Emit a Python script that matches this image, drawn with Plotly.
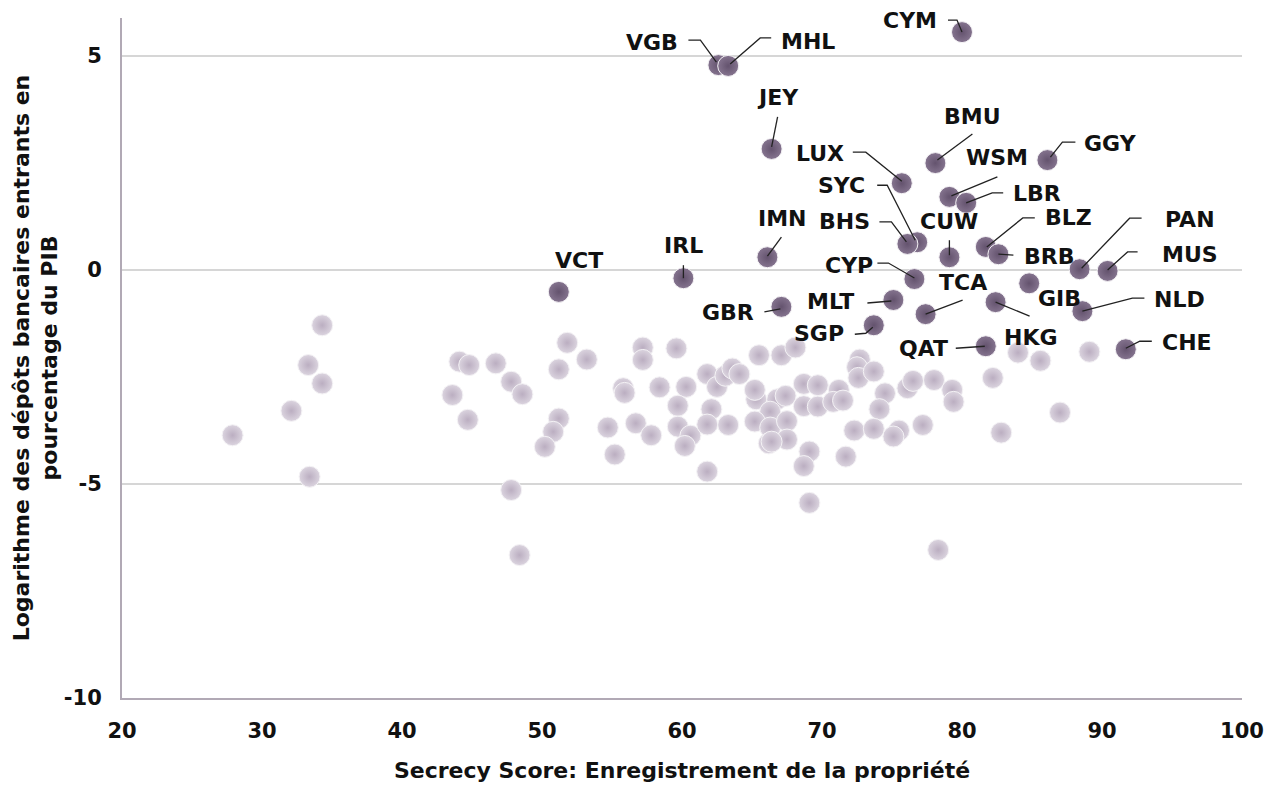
import plotly.graph_objects as go

# ---------------- data ----------------
# highlighted jurisdictions
codes = ["CYM", "VGB", "MHL", "JEY", "LUX", "BMU", "WSM", "GGY", "LBR", "SYC",
         "BHS", "CUW", "BLZ", "BRB", "PAN", "MUS", "CYP", "TCA", "MLT", "GBR",
         "SGP", "IMN", "IRL", "VCT", "GIB", "HKG", "NLD", "QAT", "CHE"]
codes_x = [80.0, 62.6, 63.3, 66.4, 75.7, 78.1, 79.1, 86.1, 80.3, 76.8,
           76.1, 79.1, 81.7, 82.6, 88.4, 90.4, 76.6, 77.4, 75.1, 67.1,
           73.7, 66.1, 60.1, 51.2, 84.8, 82.4, 88.6, 81.7, 91.7]
codes_y = [5.56, 4.79, 4.77, 2.83, 2.03, 2.50, 1.71, 2.57, 1.57, 0.65,
           0.61, 0.30, 0.54, 0.37, 0.02, -0.02, -0.21, -1.03, -0.70, -0.86,
           -1.29, 0.30, -0.19, -0.51, -0.31, -0.75, -0.96, -1.78, -1.85]

# other jurisdictions
other_x = [34.3, 33.3, 34.3, 32.1, 27.9, 33.4, 44.1, 44.8, 46.7, 47.8,
           48.6, 43.6, 44.7, 47.8, 48.4, 51.8, 53.2, 51.2, 51.2, 50.8,
           50.2, 54.7, 55.2, 55.8, 55.9, 56.7, 57.2, 57.2, 59.6, 58.4,
           60.3, 59.7, 57.8, 59.7, 60.6, 60.2, 61.8, 61.8, 62.5, 62.1,
           61.8, 63.3, 63.1, 63.6, 64.1, 65.5, 67.1, 68.1, 65.3, 65.2,
           66.8, 67.4, 66.3, 65.2, 66.3, 67.5, 67.5, 66.2, 66.4, 68.7,
           69.7, 68.7, 69.7, 71.2, 70.8, 71.5, 69.1, 68.7, 69.1, 71.7,
           72.7, 72.5, 72.6, 73.7, 74.5, 74.1, 72.3, 73.7, 75.5, 75.1,
           76.1, 76.5, 78.0, 79.3, 79.4, 77.2, 78.3, 82.2, 82.8, 87.0,
           84.0, 85.6, 89.1]
other_y = [-1.29, -2.22, -2.65, -3.29, -3.86, -4.83, -2.14, -2.22, -2.18, -2.61,
           -2.90, -2.92, -3.50, -5.14, -6.66, -1.70, -2.09, -2.32, -3.47, -3.78,
           -4.13, -3.68, -4.31, -2.76, -2.87, -3.58, -1.81, -2.10, -1.83, -2.74,
           -2.73, -3.17, -3.86, -3.66, -3.87, -4.11, -4.71, -2.43, -2.73, -3.25,
           -3.61, -3.62, -2.47, -2.30, -2.43, -1.99, -1.99, -1.81, -3.02, -2.80,
           -3.02, -2.94, -3.31, -3.54, -3.68, -3.53, -3.96, -4.05, -4.01, -2.66,
           -2.69, -3.18, -3.19, -2.80, -3.08, -3.05, -4.24, -4.58, -5.44, -4.36,
           -2.09, -2.27, -2.52, -2.37, -2.88, -3.25, -3.75, -3.71, -3.75, -3.89,
           -2.76, -2.59, -2.57, -2.80, -3.08, -3.62, -6.54, -2.52, -3.80, -3.33,
           -1.93, -2.12, -1.91]

x_ticks = [20, 30, 40, 50, 60, 70, 80, 90, 100]
y_ticks = [5, 0, -5, -10]
x_title = "Secrecy Score: Enregistrement de la propriété"
y_title = "Logarithme des dépôts bancaires entrants en<br>pourcentage du PIB"

# ---------------- label placement (pixel offsets, y up) ----------------
label_shift = {
    "CYM": (-52, 12), "VGB": (-66, 23), "MHL": (80, 24), "JEY": (6, 51),
    "LUX": (-82, 30), "BMU": (37, 47), "WSM": (48, 39), "GGY": (63, 17),
    "LBR": (71, 9), "SYC": (-76, 57), "BHS": (-63, 22), "CUW": (0, 36),
    "BLZ": (83, 29), "BRB": (51, -2), "PAN": (110, 50), "MUS": (82, 16),
    "CYP": (-65, 14), "TCA": (37, 32), "MLT": (-63, -1), "GBR": (-53, -6),
    "SGP": (-55, -8), "IMN": (15, 39), "IRL": (0, 33), "VCT": (20, 31),
    "GIB": (30, -15), "HKG": (35, -35), "NLD": (97, 12), "QAT": (-62, -2),
    "CHE": (61, 7),
}
leader_path = {
    "CYM": [(-14, 12), (-5, 12), (0, 0)],
    "VGB": [(-30, 25), (-18, 25), (-2, 3)],
    "MHL": [(43, 28), (32, 28), (2, 2)],
    "JEY": [(6, 32), (0, 2)],
    "LUX": [(-49, 31), (-36, 31), (0, 2)],
    "BMU": [(37, 29), (2, 3)],
    "WSM": [(48, 20), (2, 1)],
    "GGY": [(28, 18), (15, 18), (3, 3)],
    "LBR": [(37, 10), (26, 10), (0, 0)],
    "SYC": [(-40, 57), (-30, 57), (-2, 2)],
    "BHS": [(-28, 22), (-16, 22), (-1, 2)],
    "CUW": [(0, 17), (0, 2)],
    "BLZ": [(49, 29), (37, 29), (1, 0)],
    "BRB": [(15, -1), (0, 0)],
    "PAN": [(62, 51), (50, 51), (2, 1)],
    "MUS": [(30, 19), (20, 19), (0, 1)],
    "CYP": [(-37, 16), (-26, 16), (0, 1)],
    "TCA": [(37, 14), (0, 0)],
    "MLT": [(-26, -3), (-2, -1)],
    "GBR": [(-17, -5), (-1, -2)],
    "SGP": [(-19, -9), (-8, -8), (-1, -2)],
    "IMN": [(14, 20), (0, 1)],
    "IRL": [(0, 13), (0, 0)],
    "HKG": [(34, -14), (0, 0)],
    "NLD": [(62, 13), (50, 13), (0, 0)],
    "QAT": [(-30, -2), (-1, 0)],
    "CHE": [(26, 8), (14, 8), (0, 1)],
}

FONT = "DejaVu Sans"

fig = go.Figure()

fig.add_trace(go.Scatter(
    x=other_x, y=other_y, mode="markers", hoverinfo="skip",
    marker=dict(size=21, color="#dbd4df",
                gradient=dict(type="radial", color="#bbaec1"),
                line=dict(color="#f4f2f5", width=1)),
))
fig.add_trace(go.Scatter(
    x=codes_x, y=codes_y, mode="markers", text=codes, hoverinfo="text",
    marker=dict(size=21, color="#85748f",
                gradient=dict(type="radial", color="#64536e"),
                line=dict(color="#f4f2f5", width=1)),
))

shapes = []
annotations = []
for c, xv, yv in zip(codes, codes_x, codes_y):
    dx, dy = label_shift[c]
    annotations.append(dict(
        x=xv, y=yv, xref="x", yref="y", text=f"<b>{c}</b>", showarrow=False,
        xshift=dx, yshift=dy, font=dict(family=FONT, size=22, color="#111111"),
        xanchor="center", yanchor="middle"))
    if c in leader_path:
        pts = leader_path[c]
        path = "M " + " L ".join(f"{px},{py}" for px, py in pts)
        shapes.append(dict(
            type="path", xref="x", yref="y", xsizemode="pixel", ysizemode="pixel",
            xanchor=xv, yanchor=yv, path=path,
            line=dict(color="#222222", width=1.3), layer="above"))

fig.update_layout(
    width=1266, height=785,
    margin=dict(l=122, r=24, t=18, b=87),
    paper_bgcolor="white", plot_bgcolor="white",
    showlegend=False,
    shapes=shapes, annotations=annotations,
    font=dict(family=FONT, color="#111111"),
    xaxis=dict(
        range=[20, 100], tickvals=x_ticks, ticktext=[f"<b>{v}</b>" for v in x_ticks],
        showgrid=False, zeroline=False, showline=True, linecolor="#b1a9b5", linewidth=2,
        ticks="", tickfont=dict(family=FONT, size=21, color="#111111"), ticklabelstandoff=13,
        automargin=False,
        title=dict(text=f"<b>{x_title}</b>", font=dict(family=FONT, size=22, color="#111111"),
                   standoff=20),
    ),
    yaxis=dict(
        range=[-10, 5.89], tickvals=y_ticks, ticktext=[f"<b>{v}</b>" for v in y_ticks],
        showgrid=True, gridcolor="#d6d6d6", gridwidth=2, zeroline=False,
        showline=True, linecolor="#b1a9b5", linewidth=2, automargin=False,
        ticks="", tickfont=dict(family=FONT, size=21, color="#111111"), ticklabelstandoff=14,
        title=dict(text=f"<b>{y_title}</b>", font=dict(family=FONT, size=22, color="#111111"),
                   standoff=0),
    ),
)

fig.write_html(
    "out.html",
    config={"displayModeBar": False},
    post_script="document.body.style.margin='0';document.body.style.overflow='hidden';",
)
